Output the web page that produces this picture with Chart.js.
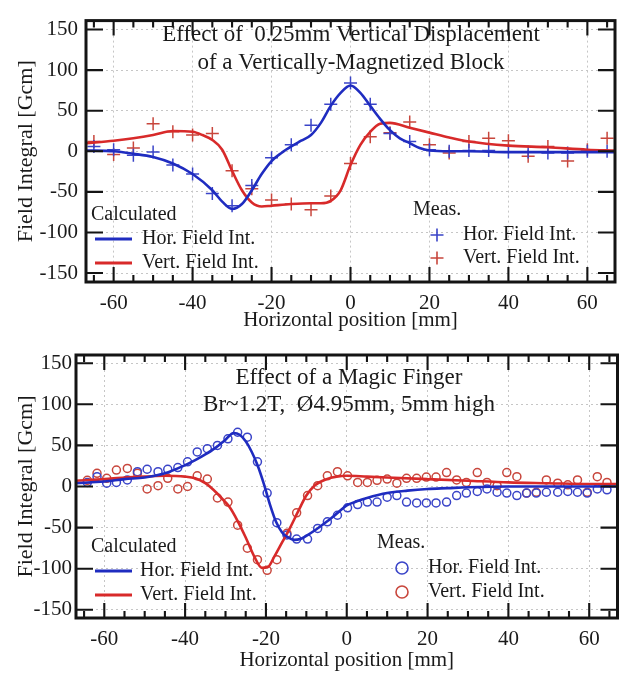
<!DOCTYPE html>
<html>
<head>
<meta charset="utf-8">
<script src="https://cdn.jsdelivr.net/npm/chart.js@4.4.0/dist/chart.umd.min.js"></script>
<style>
  html, body { margin: 0; padding: 0; background: #fff; }
  body { width: 623px; height: 673px; position: relative; overflow: hidden; }
  .box { position: absolute; left: 0; width: 623px; }
  #box1 { top: 0; height: 335px; }
  #box2 { top: 335px; height: 338px; }
</style>
</head>
<body>
<div class="box" id="box1"><canvas id="c1"></canvas></div>
<div class="box" id="box2"><canvas id="c2"></canvas></div>
<script>
// ---- top panel: 0.25mm vertical displacement of a vertically-magnetized block
const measX1 = [-65, -60, -55, -50, -45, -40, -35, -30, -25, -20, -15, -10, -5, 0, 5, 10, 15, 20, 25, 30, 35, 40, 45, 50, 55, 60, 65];
const measHor1 = [6, 2, -5, -1, -17, -28, -52, -67, -42, -8, 8, 32, 58, 84, 58, 22, 12, 2, 0, 1, 1, -1, -1, -2, -2, 0, 0];
const measVert1 = [12, -4, 4, 34, 24, 20, 22, -24, -46, -60, -65, -72, -55, -15, 18, 23, 36, 8, -2, 12, 16, 13, -6, 6, -12, 2, 16];

const calcXHor1 = [-67, -60, -55, -50, -45, -40, -35, -32.5, -30, -27.5, -25, -22.5, -20, -17.5, -15, -12.5, -10, -7.5, -5, -2.5, 0, 2.5, 5, 7.5, 10, 12.5, 15, 17.5, 20, 25, 30, 40, 50, 60, 67];
const calcHor1 = [1, 0, -3, -7, -15, -28, -48, -62, -71, -65, -48, -28, -12, -2, 6, 13, 20, 35, 56, 72, 81, 72, 56, 40, 26, 16, 10, 4, 1, 0, 0, -1, -1, -1, -1];
const calcXVert1 = [-67, -60, -55, -50, -45, -40, -37.5, -35, -32.5, -30, -27.5, -25, -22.5, -20, -15, -10, -7.5, -5, -2.5, 0, 2.5, 5, 7.5, 10, 15, 20, 25, 30, 40, 50, 60, 67];
const calcVert1 = [10, 13, 16, 20, 25, 24, 20, 14, 2, -24, -48, -63, -68, -67, -65, -64, -64, -61, -48, -17, 8, 24, 34, 35, 29, 23, 17, 12, 7, 5, 2, 1];

// ---- bottom panel: magic finger
const measX2 = [-64.2, -61.8, -59.4, -57.0, -54.3, -51.8, -49.4, -46.7, -44.3, -41.8, -39.4, -37.0, -34.5, -32.0, -29.4, -27.0, -24.6, -22.1, -19.7, -17.3, -14.8, -12.4, -9.7, -7.2, -4.8, -2.3, 0.2, 2.7, 5.1, 7.5, 10.0, 12.4, 14.8, 17.3, 19.7, 22.1, 24.7, 27.2, 29.6, 32.3, 34.7, 37.2, 39.6, 42.1, 44.5, 46.9, 49.4, 52.2, 54.7, 57.1, 59.5, 62.0, 64.4];
const measHor2 = [5, 12, 4, 5, 8, 18, 21, 18, 21, 23, 30, 42, 46, 50, 58, 66, 60, 30, -8, -44, -59, -64, -64, -51, -43, -35, -26, -22, -19, -19, -13, -11, -19, -20, -20, -20, -19, -11, -8, -6, -3, -7, -8, -11, -8, -8, -7, -7, -6, -7, -8, -3, -4];
const measVert2 = [7.5, 16, 10, 20, 22, 16, -3, 1, 10, -3, 0, 13, 9, -14, -19, -47, -75, -89, -102, -89, -57, -32, -11, 1, 13, 18, 13, 5, 5, 7.5, 9, 4, 10, 10, 11.5, 11.5, 17, 8, 5, 17, 5, 1, 17, 12, -8, -7, 8, 4, 2, 8, -7, 12, 5];

const calcXHor2 = [-67, -60, -55, -50, -45, -40, -37.5, -35, -32.5, -30, -28, -26.5, -25, -23.5, -22, -20.5, -19, -17.5, -16, -14.5, -13, -11.5, -10, -7.5, -5, -2.5, 0, 2.5, 5, 10, 15, 20, 25, 30, 40, 50, 60, 67];
const calcHor2 = [4, 6, 9, 11, 16, 26, 32, 39, 47, 57, 65, 63, 55, 42, 25, 3, -22, -43, -56, -62, -65, -64, -60, -52, -43, -33, -23, -18, -14, -8, -5, -3, -2, -1, 0, 0, 0, 0];
const calcXVert2 = [-67, -60, -55, -50, -45, -40, -37.5, -35, -33, -31, -29, -27, -25, -23, -21, -19.5, -18, -16, -14, -12, -10, -8, -5, -2.5, 0, 5, 10, 20, 30, 40, 50, 60, 67];
const calcVert2 = [7, 9, 11, 12, 13, 12, 10, 4, -4, -14, -25, -42, -62, -84, -99, -98, -86, -68, -50, -30, -11, 1, 9, 12, 13, 12, 11, 9, 7, 5, 4, 3, 3];

const title1 = ['Effect of  0.25mm Vertical Displacement', 'of a Vertically-Magnetized Block'];
const title2 = ['Effect of a Magic Finger', 'Br~1.2T,  \u00D84.95mm, 5mm high'];
const seriesNames = ['Hor. Field Int.', 'Vert. Field Int.'];

const BLUE = '#1f2cc0';
const RED = '#d82a2a';
const BLUE_PT = '#3a44c8';
const RED_PT = '#c8463c';
const SERIF = '"Liberation Serif", "DejaVu Serif", serif';

function pts(xs, ys) {
  return xs.map((x, i) => ({ x: x, y: ys[i] }));
}

function curve(xs, ys, color) {
  return {
    data: pts(xs, ys), showLine: true, borderColor: color, borderWidth: 2.6,
    pointRadius: 0, cubicInterpolationMode: 'monotone', order: 1
  };
}

function marks(xs, ys, color, style, r) {
  return {
    data: pts(xs, ys), showLine: false, pointStyle: style, pointRadius: r,
    pointBorderColor: color, pointBackgroundColor: 'rgba(0,0,0,0)', pointBorderWidth: 1.5, order: 2
  };
}

// frame, inward ticks, in-plot title and the two legend groups
const fieldPlot = {
  id: 'fieldPlot',
  afterDatasetsDraw(chart, args, o) {
    const { ctx, chartArea: a } = chart;
    const xs = chart.scales.x, ys = chart.scales.y;
    ctx.save();
    ctx.strokeStyle = '#141414';
    ctx.lineWidth = 2.1;
    ctx.beginPath();
    for (let v = Math.ceil(xs.min / 5) * 5; v <= xs.max; v += 5) {
      const px = xs.getPixelForValue(v);
      const len = v % 20 === 0 ? 15 : 7;
      ctx.moveTo(px, a.bottom); ctx.lineTo(px, a.bottom - len);
      ctx.moveTo(px, a.top); ctx.lineTo(px, a.top + len);
    }
    ys.ticks.forEach(t => {
      const py = ys.getPixelForValue(t.value);
      ctx.moveTo(a.left, py); ctx.lineTo(a.left + 17, py);
      ctx.moveTo(a.right, py); ctx.lineTo(a.right - 17, py);
    });
    ctx.stroke();
    ctx.lineWidth = 3;
    ctx.strokeRect(a.left, a.top, a.right - a.left, a.bottom - a.top);

    ctx.fillStyle = '#1a1a1a';
    ctx.textBaseline = 'middle';
    ctx.textAlign = 'center';
    ctx.font = '23px ' + SERIF;
    o.title.forEach((t, i) => ctx.fillText(t, o.titleX, o.titleY[i]));

    ctx.textAlign = 'left';
    ctx.font = '20px ' + SERIF;
    const c = o.calc, m = o.meas;
    ctx.fillText('Calculated', c.x, c.head);
    ctx.fillText('Meas.', m.x, m.head);
    [BLUE, RED].forEach((col, i) => {
      const yy = c.rows[i];
      ctx.strokeStyle = col; ctx.lineWidth = 3;
      ctx.beginPath(); ctx.moveTo(c.lineX[0], yy); ctx.lineTo(c.lineX[1], yy); ctx.stroke();
      ctx.fillText(seriesNames[i], c.textX, yy);
    });
    [BLUE_PT, RED_PT].forEach((col, i) => {
      const yy = m.rows[i];
      ctx.strokeStyle = col; ctx.lineWidth = 1.6;
      ctx.beginPath();
      if (m.style === 'cross') {
        ctx.moveTo(m.markX - 6.5, yy); ctx.lineTo(m.markX + 6.5, yy);
        ctx.moveTo(m.markX, yy - 6.5); ctx.lineTo(m.markX, yy + 6.5);
      } else {
        ctx.arc(m.markX, yy, 6, 0, Math.PI * 2);
      }
      ctx.stroke();
      ctx.fillText(seriesNames[i], m.textX, yy);
    });
    ctx.restore();
  }
};

function makeChart(id, sets, yLim, yWidth, xHeight, padTop, tickPadY, titlePadX, notes) {
  return new Chart(document.getElementById(id), {
    type: 'scatter',
    data: { datasets: sets },
    options: {
      responsive: true, maintainAspectRatio: false, animation: false,
      layout: { padding: { top: padTop, right: 2, left: 0, bottom: 0 } },
      plugins: { legend: { display: false }, tooltip: { enabled: false }, fieldPlot: notes },
      scales: {
        x: {
          type: 'linear', min: -67, max: 67,
          ticks: { stepSize: 20, includeBounds: false, color: '#1a1a1a', padding: 9, font: { family: SERIF, size: 21 } },
          grid: { color: '#c6c6c6', lineWidth: 1, drawTicks: false },
          border: { display: false, dash: [2, 3] },
          title: { display: true, text: 'Horizontal position [mm]', color: '#1a1a1a', font: { family: SERIF, size: 21 }, padding: { top: 0, bottom: titlePadX } },
          afterFit: s => { s.height = xHeight; }
        },
        y: {
          type: 'linear', min: -yLim, max: yLim,
          ticks: { stepSize: 50, includeBounds: false, color: '#1a1a1a', padding: tickPadY, font: { family: SERIF, size: 21 } },
          grid: { color: '#c6c6c6', lineWidth: 1, drawTicks: false },
          border: { display: false, dash: [2, 3] },
          title: { display: true, text: 'Field Integral [Gcm]', color: '#1a1a1a', font: { family: SERIF, size: 22 }, padding: { top: 13, bottom: 0 } },
          afterFit: s => { s.width = yWidth; }
        }
      }
    },
    plugins: [fieldPlot]
  });
}

makeChart('c1', [
  marks(measX1, measHor1, BLUE_PT, 'cross', 6.5),
  marks(measX1, measVert1, RED_PT, 'cross', 6.5),
  curve(calcXHor1, calcHor1, BLUE),
  curve(calcXVert1, calcVert1, RED)
], 161, 86, 53, 13, 8, 2, {
  title: title1, titleX: 351, titleY: [35, 63],
  calc: { x: 91, head: 215, lineX: [95, 132], textX: 142, rows: [239, 263] },
  meas: { x: 413, head: 210, style: 'cross', markX: 437, textX: 463, rows: [235, 258] }
});

makeChart('c2', [
  marks(measX2, measHor2, BLUE_PT, 'circle', 4),
  marks(measX2, measVert2, RED_PT, 'circle', 4),
  curve(calcXHor2, calcHor2, BLUE),
  curve(calcXVert2, calcVert2, RED)
], 160, 76, 55, 20, 4, 0, {
  title: title2, titleX: 349, titleY: [43, 70],
  calc: { x: 91, head: 212, lineX: [95, 132], textX: 140, rows: [236, 260] },
  meas: { x: 377, head: 208, style: 'circle', markX: 402, textX: 428, rows: [233, 257] }
});
</script>
</body>
</html>
